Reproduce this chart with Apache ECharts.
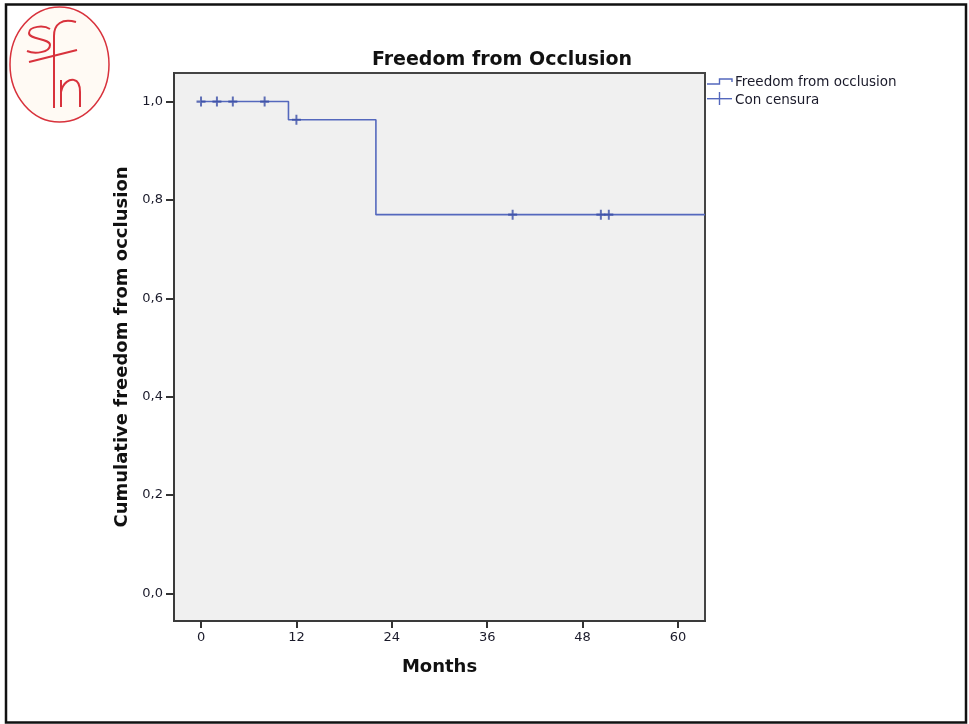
<!DOCTYPE html>
<html>
<head>
<meta charset="utf-8">
<title>Freedom from Occlusion</title>
<script src="https://cdn.jsdelivr.net/npm/echarts/dist/echarts.min.js"></script>
<style>
  html, body { margin: 0; padding: 0; background: #ffffff; }
  #chart { width: 969px; height: 724px; }
</style>
</head>
<body>
<div id="chart"></div>
<script>
// ---- data ----
const stepMonths = [0, 11, 22, 63.4];           // times where the curve level changes (last = end of follow-up)
const survival = [1.0, 0.963, 0.770, 0.770];    // cumulative freedom from occlusion after each time
const censorMonths = [0, 2, 4, 8, 12, 39.2, 50.3, 51.3];
const censorSurvival = [1.0, 1.0, 1.0, 1.0, 0.963, 0.770, 0.770, 0.770];
const xTicks = [0, 12, 24, 36, 48, 60];
const yTicks = [0, 0.2, 0.4, 0.6, 0.8, 1.0];
const seriesNames = ['Freedom from occlusion', 'Con censura'];

const FONT = 'DejaVu Sans';
const LINE_COLOR = '#5468bd';
const CENSOR_COLOR = '#3a4da6';
const LOGO_RED = '#d8323c';
const PLUS = 'path://M3.9,0H6.1V3.9H10V6.1H6.1V10H3.9V6.1H0V3.9H3.9Z';

function bez(x1, y1, cx1, cy1, cx2, cy2, x2, y2) {
  return { type: 'bezierCurve',
    shape: { x1: x1, y1: y1, cpx1: cx1, cpy1: cy1, cpx2: cx2, cpy2: cy2, x2: x2, y2: y2 },
    style: { fill: 'none', stroke: LOGO_RED, lineWidth: 2 } };
}
function seg(x1, y1, x2, y2) {
  return { type: 'line', shape: { x1: x1, y1: y1, x2: x2, y2: y2 },
    style: { stroke: LOGO_RED, lineWidth: 2 } };
}

const chart = echarts.init(document.getElementById('chart'), null, { renderer: 'canvas' });

const option = {
  backgroundColor: '#ffffff',
  animation: false,
  title: {
    text: 'Freedom from Occlusion',
    left: 497,
    top: 46,
    textAlign: 'center',
    textStyle: { fontFamily: FONT, fontSize: 19, fontWeight: 'bold', color: '#111' }
  },
  grid: {
    left: 174, top: 73, right: 264, bottom: 103,
    show: true,
    backgroundColor: '#f0f0f0',
    borderColor: '#444',
    borderWidth: 2
  },
  xAxis: {
    type: 'value',
    min: -3.4,
    max: 63.4,
    name: 'Months',
    nameLocation: 'middle',
    nameGap: 37,
    nameTextStyle: { fontFamily: FONT, fontSize: 18, fontWeight: 'bold', color: '#111' },
    axisLine: { show: true, onZero: false, lineStyle: { color: '#3a3a3a', width: 2 } },
    axisTick: { show: true, customValues: xTicks, length: 7, lineStyle: { color: '#333', width: 2 } },
    axisLabel: { customValues: xTicks, margin: 10, fontFamily: FONT, fontSize: 13, color: '#1a1a2a' },
    splitLine: { show: false }
  },
  yAxis: {
    type: 'value',
    min: -0.056,
    max: 1.058,
    name: 'Cumulative freedom from occlusion',
    nameLocation: 'middle',
    nameGap: 43,
    nameTextStyle: { fontFamily: FONT, fontSize: 18, fontWeight: 'bold', color: '#111' },
    axisLine: { show: true, onZero: false, lineStyle: { color: '#3a3a3a', width: 2 } },
    axisTick: { show: true, customValues: yTicks, length: 8, lineStyle: { color: '#333', width: 2 } },
    axisLabel: {
      customValues: yTicks,
      margin: 11,
      fontFamily: FONT, fontSize: 13, color: '#1a1a2a',
      formatter: v => v.toFixed(1).replace('.', ',')
    },
    splitLine: { show: false }
  },
  series: [
    {
      name: seriesNames[0],
      type: 'line',
      step: 'end',
      data: stepMonths.map((m, i) => [m, survival[i]]),
      symbol: 'none',
      lineStyle: { color: LINE_COLOR, width: 1.6 },
      itemStyle: { color: LINE_COLOR },
      clip: true,
      z: 2
    },
    {
      name: seriesNames[1],
      type: 'scatter',
      data: censorMonths.map((m, i) => [m, censorSurvival[i]]),
      symbol: PLUS,
      symbolSize: [9, 10],
      itemStyle: { color: CENSOR_COLOR },
      z: 3
    }
  ],
  graphic: [
    // outer frame of the slide
    { type: 'rect', shape: { x: 6, y: 4.5, width: 960, height: 718 },
      style: { fill: 'none', stroke: '#111', lineWidth: 2.5 }, z: 10 },
    // logo
    { type: 'group', z: 10, children: [
      { type: 'ellipse', shape: { cx: 59.5, cy: 64.5, rx: 49.5, ry: 57.5 },
        style: { fill: '#fffaf4', stroke: LOGO_RED, lineWidth: 1.5 } },
      bez(50, 29, 44, 25, 29, 26, 29, 33),
      bez(29, 33, 29, 40, 50, 38, 50, 45),
      bez(50, 45, 50, 53, 34, 54, 27, 51),
      seg(54, 108, 54, 36),
      bez(54, 36, 54, 24, 62, 18, 76, 22),
      seg(29, 62, 77, 50),
      seg(61, 107, 61, 80),
      bez(61, 92, 63, 82, 70, 79, 74, 80),
      bez(74, 80, 79, 81, 80, 86, 80, 92),
      seg(80, 92, 80, 107)
    ]},
    // legend
    { type: 'group', z: 10, children: [
      { type: 'polyline', shape: { points: [[707, 84], [719.5, 84], [719.5, 79], [732, 79], [732, 82]] },
        style: { fill: 'none', stroke: LINE_COLOR, lineWidth: 1.4 } },
      { type: 'line', shape: { x1: 707, y1: 98.7, x2: 732, y2: 98.7 },
        style: { stroke: LINE_COLOR, lineWidth: 1.4 } },
      { type: 'line', shape: { x1: 719.5, y1: 92, x2: 719.5, y2: 105 },
        style: { stroke: LINE_COLOR, lineWidth: 1.4 } },
      { type: 'text', x: 735, y: 82.8,
        style: { text: seriesNames[0], fontFamily: FONT, fontSize: 13.5, fill: '#1a1a2a', verticalAlign: 'middle' } },
      { type: 'text', x: 735, y: 100.3,
        style: { text: seriesNames[1], fontFamily: FONT, fontSize: 13.5, fill: '#1a1a2a', verticalAlign: 'middle' } }
    ]}
  ]
};

chart.setOption(option);
</script>
</body>
</html>
